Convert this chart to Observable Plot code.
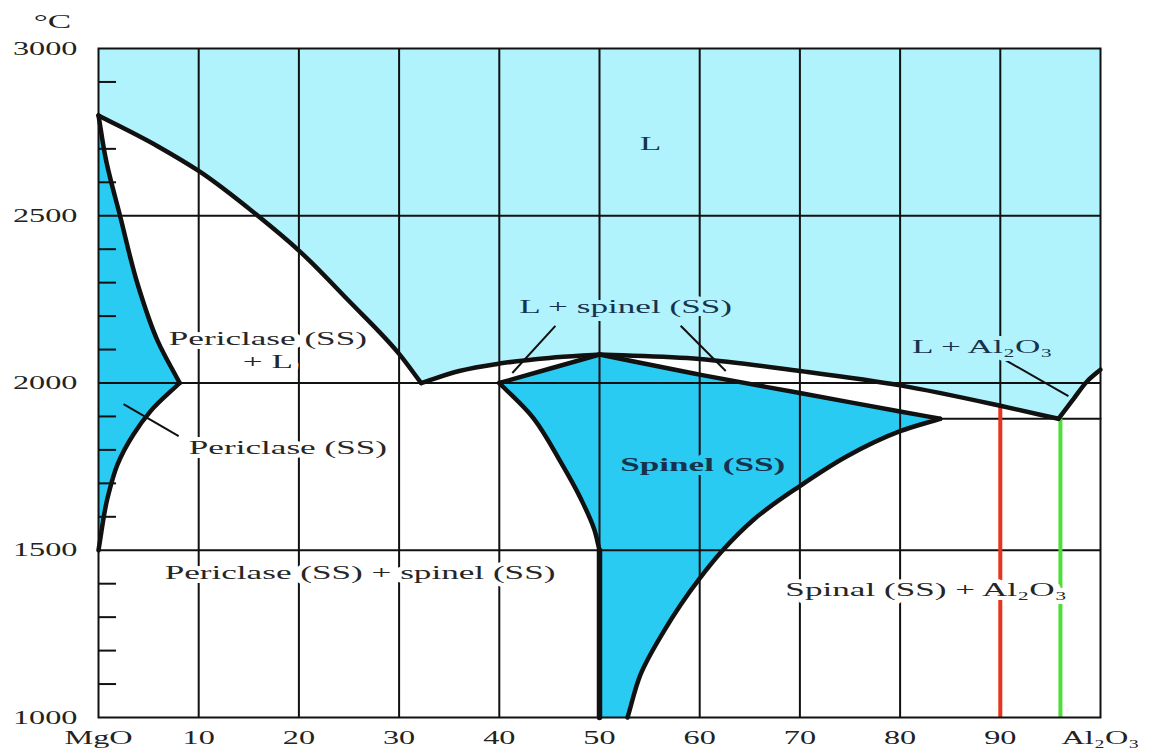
<!DOCTYPE html>
<html><head><meta charset="utf-8">
<script src="https://cdn.jsdelivr.net/npm/d3@7"></script>
<script src="https://cdn.jsdelivr.net/npm/@observablehq/plot@0.6"></script>
<style>
html,body{margin:0;padding:0;background:#fff;}
#chart svg{display:block;}
</style></head><body><div id="chart"></div>
<script>
// ---------- axis data ----------
const xTicks = [0,10,20,30,40,50,60,70,80,90,100];
const xTickLabels = ["MgO","10","20","30","40","50","60","70","80","90","Al₂O₃"];
const yTicks = [1000,1500,2000,2500,3000];
const minorTicks = [1100,1200,1300,1400,1600,1700,1800,1900,2100,2200,2300,2400,2600,2700,2900];
const gridX = [10,20,30,40,50,60,70,80,90];
const gridY = [1500,2000,2500];

// ---------- phase boundaries [wt% Al2O3, °C] ----------
const liquidusMgO = [[0,2800],[5.9,2708],[10,2634],[15.9,2500],[20,2396],[25,2245],[30,2087],[32.2,2000]];
const liquidusSpinelLeft = [[32.2,2000],[36,2036],[40,2058],[45,2075],[50,2085]];
const liquidusSpinelRight = [[50,2085],[60,2072],[70,2036],[80,1993],[90,1932],[95.8,1893]];
const liquidusAl2O3 = [[95.8,1893],[97.3,1952],[98.7,2006],[100,2040]];
const solidusPericlase = [[0,2800],[0.7,2674],[2.2,2494],[3.9,2296],[5.9,2126],[8.1,2000]];
const solvusPericlase = [[8.1,2000],[5.2,1916],[3.5,1847],[1.9,1757],[0.9,1656],[0,1500]];
const solidusSpinelLeft = [[40,2000],[50,2085]];
const solidusSpinelRight = [[50,2085],[60,2025],[70,1970],[80,1915],[84,1893]];
const solvusSpinelRight = [[84,1893],[80,1856],[74.7,1781],[70,1692],[65.4,1592],[62.3,1500],[60,1416],[56.4,1257],[54.1,1129],[52.8,1000]];
const solvusSpinelLeft = [[40,2000],[43.4,1895],[46.1,1765],[48.1,1656],[49.5,1560],[50,1500]];
const spinelStoich = [[50,1500],[50,1000]];
const eutecticIsotherm = [[84,1893],[100,1893]];

// ---------- labels ----------
const labelText = ["L","Periclase (SS)\n+ L","Periclase (SS)","L + spinel (SS)","Spinel (SS)","Periclase (SS) + spinel (SS)","Spinal (SS) + Al₂O₃","L + Al₂O₃"];
const labelX = [55.1,16.9,18.9,52.6,60.3,26.1,82.6,88.2];
const labelT = [2719,2100,1811,2231,1760,1437,1386,2111];
const labelBg = ["liquid","white","white","liquid","solid","white","white","liquid"];

// ---------- leader lines ----------
const leaderX1 = [8.0,45.6,58.1,90.3];
const leaderT1 = [1841,2171,2171,2072];
const leaderX2 = [2.5,41.3,62.6,96.8];
const leaderT2 = [1937,2030,2036,1961];

// ---------- marked compositions ----------
const redLine = {x:90, top:1932, bottom:1000};
const greenLine = {x:96, top:1893, bottom:1000};

// ---------- build tables ----------
const labels = labelText.map((t,i)=>({text:t, x:labelX[i], T:labelT[i], bg:labelBg[i]}));
const leaders = leaderX1.map((x,i)=>({x1:x, y1:leaderT1[i], x2:leaderX2[i], y2:leaderT2[i]}));

const liquidRegion = [[0,3000],[0,2800], ...liquidusMgO, ...liquidusSpinelLeft, ...liquidusSpinelRight, ...liquidusAl2O3,
  [100,2040],[100,3000], [100,3000],[0,3000]];
const periclaseRegion = [...solidusPericlase, ...solvusPericlase, [0,1500],[0,2800]];
const spinelRegion = [...solidusSpinelLeft, ...solidusSpinelRight, ...solvusSpinelRight,
  [52.8,1000],[50,1000], [50,1000],[50,1500], ...solvusSpinelLeft.slice().reverse()];

// Smooth (chord-length, Bessel tangents) curve that keeps a sharp corner at repeated points
function segCurve(context) {
  let pts = [];
  return {
    areaStart(){}, areaEnd(){},
    lineStart(){ pts = []; },
    point(x,y){ pts.push([+x,+y]); },
    lineEnd(){
      if (!pts.length) return;
      const segs = []; let cur = [pts[0]];
      for (let i=1;i<pts.length;i++){
        const p=pts[i], q=pts[i-1];
        if (Math.abs(p[0]-q[0])<1e-9 && Math.abs(p[1]-q[1])<1e-9){ segs.push(cur); cur=[p]; }
        else cur.push(p);
      }
      segs.push(cur);
      context.moveTo(segs[0][0][0], segs[0][0][1]);
      for (const s of segs){
        const n = s.length;
        if (n < 2) continue;
        const h = [], sl = [];
        for (let i=0;i<n-1;i++){
          const dx = s[i+1][0]-s[i][0], dy = s[i+1][1]-s[i][1];
          const d = Math.hypot(dx,dy) || 1e-6;
          h.push(d); sl.push([dx/d, dy/d]);
        }
        const m = [];
        for (let i=0;i<n;i++){
          if (i===0) m.push(sl[0]);
          else if (i===n-1) m.push(sl[n-2]);
          else {
            const w = h[i-1]+h[i];
            m.push([(h[i]*sl[i-1][0]+h[i-1]*sl[i][0])/w, (h[i]*sl[i-1][1]+h[i-1]*sl[i][1])/w]);
          }
        }
        for (let i=0;i<n-1;i++){
          const d = h[i]/3;
          context.bezierCurveTo(
            s[i][0]+m[i][0]*d, s[i][1]+m[i][1]*d,
            s[i+1][0]-m[i+1][0]*d, s[i+1][1]-m[i+1][1]*d,
            s[i+1][0], s[i+1][1]);
        }
      }
    }
  };
}

const LIGHT = "#b0f3fd", DARK = "#29cbf3", INK = "#111";
const px = d=>d[0], py = d=>d[1];
const boundary = (arr, w=4.5) => Plot.line(arr, {x:px, y:py, curve:segCurve, stroke:INK, strokeWidth:w, strokeLinejoin:"round", strokeLinecap:"round"});
const labelMark = (bg, halo, fill, weight) => Plot.text(labels, {filter:d=>d.bg===bg, x:"x", y:"T", text:"text",
  fill, stroke:halo, strokeWidth:8, paintOrder:"stroke", strokeLinejoin:"round", fontSize:19, fontWeight:weight,
  lineHeight:1.2});

const plot = Plot.plot({
  width:1151, height:753,
  marginLeft:98, marginRight:51, marginTop:48, marginBottom:36,
  x:{domain:[0,100]},
  y:{domain:[1000,3000]},
  style:{fontFamily:"'Liberation Serif','Times New Roman',serif", fontSize:"19px", color:"#222", background:"#fff"},
  marks:[
    Plot.line(liquidRegion, {x:px, y:py, curve:segCurve, fill:LIGHT, stroke:"none"}),
    Plot.line(periclaseRegion, {x:px, y:py, curve:segCurve, fill:DARK, stroke:"none"}),
    Plot.line(spinelRegion, {x:px, y:py, curve:segCurve, fill:DARK, stroke:"none"}),
    Plot.ruleX(gridX, {x:d=>d, stroke:INK, strokeWidth:2}),
    Plot.ruleY(gridY, {y:d=>d, stroke:INK, strokeWidth:2}),
    Plot.ruleY(minorTicks, {y:d=>d, x1:0, x2:1.8, stroke:INK, strokeWidth:2}),
    Plot.line(eutecticIsotherm, {x:px, y:py, stroke:INK, strokeWidth:2}),
    Plot.ruleX([redLine], {x:"x", y1:"top", y2:"bottom", stroke:"#e8341f", strokeWidth:4}),
    Plot.ruleX([greenLine], {x:"x", y1:"top", y2:"bottom", stroke:"#4ede3a", strokeWidth:4}),
    boundary(liquidusMgO), boundary(liquidusSpinelLeft), boundary(liquidusSpinelRight), boundary(liquidusAl2O3),
    boundary(solidusPericlase), boundary(solvusPericlase),
    boundary(solidusSpinelLeft), boundary(solidusSpinelRight), boundary(solvusSpinelRight), boundary(solvusSpinelLeft),
    boundary(spinelStoich, 5.5),
    Plot.frame({stroke:INK, strokeWidth:2}),
    Plot.link(leaders, {x1:"x1", y1:"y1", x2:"x2", y2:"y2", stroke:INK, strokeWidth:2}),
    labelMark("white", "#fff", "#262626", "normal"),
    labelMark("liquid", LIGHT, "#17324d", "normal"),
    labelMark("solid", DARK, "#17324d", "bold"),
    Plot.axisY({ticks:yTicks, tickSize:0, tickPadding:21, tickFormat:d=>String(d), label:null, fontSize:19}),
    Plot.axisX({ticks:xTicks, tickSize:0, tickPadding:13, tickFormat:d=>xTickLabels[xTicks.indexOf(d)], label:null, fontSize:19}),
    Plot.text(["°C"], {text:d=>d, frameAnchor:"top-left", textAnchor:"middle", lineAnchor:"middle", dx:-46, dy:-27, fontSize:19})
  ]
});

// the reference lettering is horizontally stretched
plot.querySelectorAll("text").forEach(t=>{
  const g = t.closest("g[aria-label]");
  const lab = g ? g.getAttribute("aria-label") : "";
  const s = lab.includes("axis") ? 1.7 : 1.85;
  const tr = t.getAttribute("transform");
  if (tr) t.setAttribute("transform", tr + ` scale(${s},1)`);
  else {
    const x = +(t.getAttribute("x")||0), y = +(t.getAttribute("y")||0);
    t.removeAttribute("x"); t.removeAttribute("y");
    t.setAttribute("transform", `translate(${x},${y}) scale(${s},1)`);
  }
});

document.getElementById("chart").appendChild(plot);
</script>
</body></html>
